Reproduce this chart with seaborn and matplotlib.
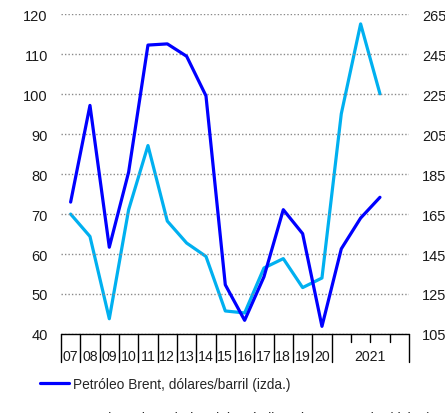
import numpy as np
import pandas as pd
import matplotlib
matplotlib.use("Agg")
import matplotlib.pyplot as plt
import seaborn as sns

# Period labels: annual 2007-2020, then quarters of 2021
periods = ["07", "08", "09", "10", "11", "12", "13", "14", "15", "16",
           "17", "18", "19", "20", "2021T1", "2021T2", "2021T3"]
year_labels = ["07", "08", "09", "10", "11", "12", "13", "14", "15", "16",
               "17", "18", "19", "20", "2021"]

# Brent, USD per barrel (left axis)
brent = [73.0, 97.2, 61.7, 80.5, 112.3, 112.6, 109.5, 99.6, 52.3, 43.4,
         54.3, 71.1, 65.1, 41.9, 61.3, 69.0, 74.2]
# Industrial commodities, The Economist index (right axis)
metals = [165.0, 153.8, 112.6, 167.2, 199.3, 161.5, 150.5, 143.8, 116.5, 115.5,
          138.0, 142.7, 128.2, 133.0, 215.2, 260.2, 225.2]

left_ticks = [40, 50, 60, 70, 80, 90, 100, 110, 120]
right_ticks = [105, 125, 145, 165, 185, 205, 225, 245, 265]

label_brent = "Petróleo Brent, dólares/barril (izda.)"
label_metals = "Materias primas industriales, índice The Economist (dcha.)"

df = pd.DataFrame({"pos": np.arange(len(periods)), "period": periods,
                   "brent": brent, "metals": metals})

sns.set_theme(style="white")
plt.rcParams["font.family"] = ["Liberation Sans", "DejaVu Sans"]

fig = plt.figure(figsize=(4.45, 4.14), dpi=100)
ax = fig.add_axes([0.137, 0.191, 0.782, 0.772])
ax2 = ax.twinx()

BLUE = "#0000FF"
CYAN = "#00B0F0"

sns.lineplot(data=df, x="pos", y="metals", ax=ax2, color=CYAN, lw=2.3,
             label=label_metals, legend=False)
sns.lineplot(data=df, x="pos", y="brent", ax=ax, color=BLUE, lw=2.3,
             label=label_brent, legend=False)
ax.set_zorder(ax2.get_zorder() + 1)
ax.patch.set_visible(False)

ax.set_xlim(-0.5, 17.5)
ax.set_ylim(40, 120)
ax2.set_ylim(105, 265)
ax.set_yticks(left_ticks)
ax2.set_yticks(right_ticks)
ax.set_xlabel("")
ax.set_ylabel("")
ax2.set_ylabel("")

for a in (ax, ax2):
    for s in ("left", "right", "top", "bottom"):
        a.spines[s].set_visible(False)
ax.tick_params(axis="y", length=0, labelsize=10.5, colors="#1a1a1a", pad=9.5)
ax2.tick_params(axis="y", length=0, labelsize=10.5, colors="#1a1a1a", pad=9.5)

ax.yaxis.grid(True, linestyle=(0, (1, 1.5)), color="#8a8a8a", lw=1.0)
ax.axhline(40, color="black", lw=1.0, zorder=5, clip_on=False)

# Year separators (long) and quarter separators (short) below the axis
ax.set_xticks([])
n_years = 14
trans = ax.get_xaxis_transform()
for i in range(n_years + 1):
    ax.plot([i - 0.5, i - 0.5], [0, -0.088], transform=trans, color="black",
            lw=1.0, clip_on=False)
ax.plot([17.5, 17.5], [0, -0.088], transform=trans, color="black",
        lw=1.0, clip_on=False)
for q in range(1, 4):
    ax.plot([13.5 + q, 13.5 + q], [0, -0.026], transform=trans, color="black",
            lw=1.0, clip_on=False)

# Period labels centred in their slots
centers = list(range(n_years)) + [15.5]
for c, lab in zip(centers, year_labels):
    ax.text(c, -0.07, lab, transform=trans, ha="center", va="center",
            fontsize=10.2, color="#1a1a1a")

h1, l1 = ax.get_legend_handles_labels()
h2, l2 = ax2.get_legend_handles_labels()
fig.legend(h1 + h2, l1 + l2, loc="upper left", bbox_to_anchor=(0.09, 0.088),
           frameon=False, fontsize=9.9, handlelength=2.1, handletextpad=0.3,
           labelspacing=1.45, borderpad=0, borderaxespad=0)

fig.savefig("out.png", dpi=100)
